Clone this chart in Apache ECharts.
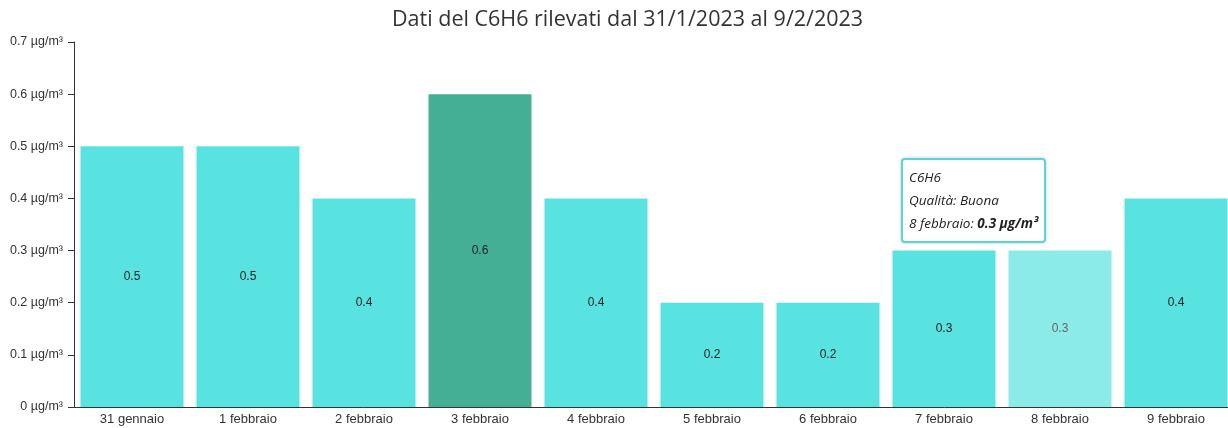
<!DOCTYPE html>
<html><head><meta charset="utf-8">
<script src="https://cdn.jsdelivr.net/npm/echarts@6/dist/echarts.min.js"></script>
<style>html,body{margin:0;padding:0;background:#fff;overflow:hidden;width:1228px;height:428px}#c{width:1240px;height:428px}</style>
</head><body><div id="c"></div>
<script>
const categories = ['31 gennaio','1 febbraio','2 febbraio','3 febbraio','4 febbraio','5 febbraio','6 febbraio','7 febbraio','8 febbraio','9 febbraio'];
const values = [0.5,0.5,0.4,0.6,0.4,0.2,0.2,0.3,0.3,0.4];
const yTicks = [0,0.1,0.2,0.3,0.4,0.5,0.6,0.7];
const highlightIndex = 3;
const hoverIndex = 8;
const quality = 'Buona';

const chart = echarts.init(document.getElementById('c'), null, {renderer:'canvas'});
const data = values.map((v,i)=>{
  const item = {value:v};
  if (i===highlightIndex) item.itemStyle = {color:'#45AF93'};
  if (i===hoverIndex) { item.itemStyle = {color:'#8BEBE8'}; item.label = {color:'#666'}; }
  return item;
});
chart.setOption({
  animation:false,
  title:{text:'Dati del C6H6 rilevati dal 31/1/2023 al 9/2/2023',left:387,top:4,
    textStyle:{fontFamily:'Open Sans',fontWeight:'normal',fontSize:21.5,color:'#333'}},
  grid:{left:74,top:42,width:1160,height:365,containLabel:false},
  tooltip:{trigger:'item',triggerOn:'none',alwaysShowContent:true,
    backgroundColor:'#fff',borderColor:'#5AD6D6',borderWidth:2,padding:[6,6],
    extraCssText:'border-radius:4px;box-shadow:0 0 3px rgba(0,0,0,0.25);line-height:23px;',
    textStyle:{fontFamily:'Open Sans',fontSize:13.5,color:'#222'},
    position:function(){
      const p = chart.convertToPixel({gridIndex:0},[categories[hoverIndex], values[hoverIndex]]);
      return [p[0]-159, p[1]-93];
    },
    formatter:function(p){
      return '<i>C6H6<br>Qualità: '+quality+'<br>'+p.name+': <b>'+p.value+' µg/m³</b></i>';
    }},
  xAxis:{type:'category',data:categories,
    axisLine:{lineStyle:{color:'#333',width:1}},
    axisTick:{alignWithLabel:true,length:4,lineStyle:{color:'#333'}},
    axisLabel:{fontFamily:'Liberation Sans',fontSize:13,color:'#333',margin:6}},
  yAxis:{type:'value',min:0,max:0.7,interval:0.1,
    axisLine:{show:true,lineStyle:{color:'#333'}},
    axisTick:{show:true,length:6,lineStyle:{color:'#333'}},
    splitLine:{show:false},
    axisLabel:{fontFamily:'Liberation Sans',fontSize:12.5,color:'#333',margin:11,
      formatter:function(v){const t=yTicks.find(x=>Math.abs(x-v)<1e-9);return (t!==undefined?t:v)+' µg/m³';}}},
  series:[{type:'bar',data:data,barCategoryGap:'11.2%',
    itemStyle:{color:'#58E3E1'},
    label:{show:true,position:'inside',fontFamily:'Liberation Sans',fontSize:12,color:'#222'}}]
});
chart.dispatchAction({type:'showTip',seriesIndex:0,dataIndex:hoverIndex});
</script></body></html>
